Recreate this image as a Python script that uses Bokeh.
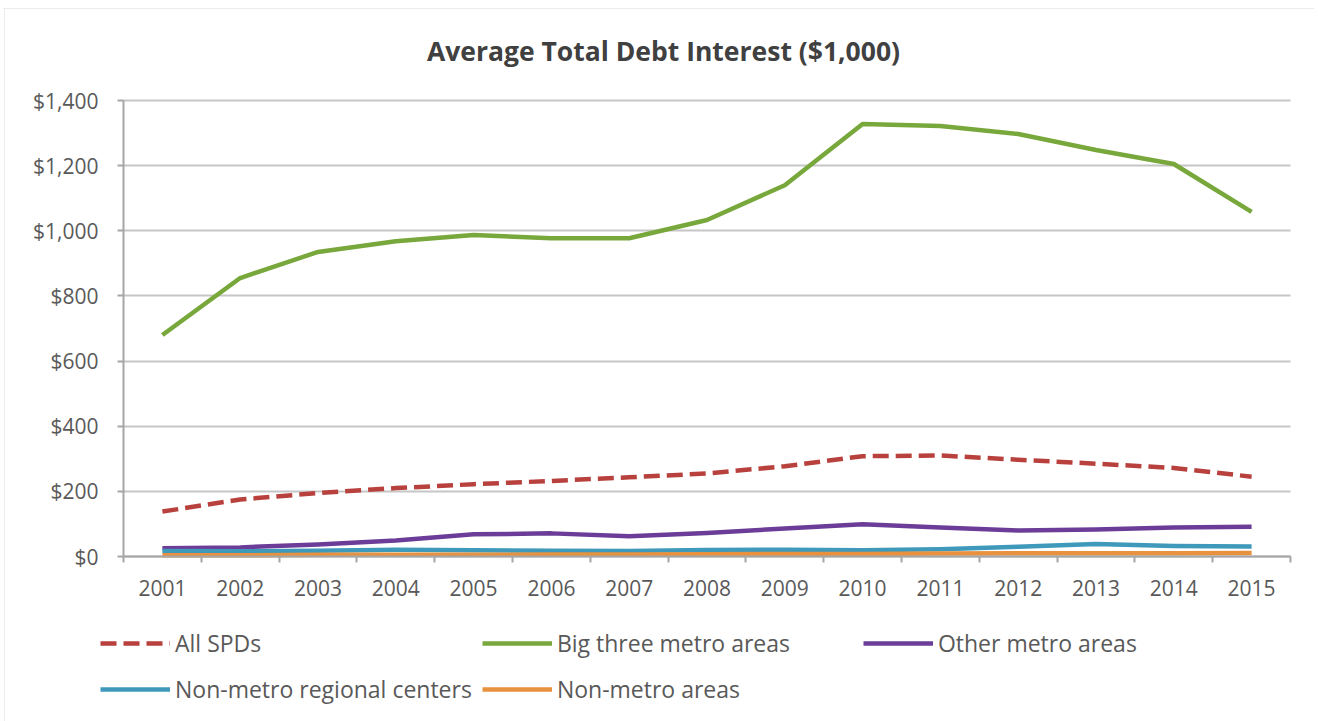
from bokeh.plotting import figure
from bokeh.models import (Range1d, FixedTicker, NumeralTickFormatter,
                          Legend, LegendItem, Label)
from bokeh.embed import file_html
from bokeh.resources import INLINE

years = ["2001", "2002", "2003", "2004", "2005", "2006", "2007", "2008",
         "2009", "2010", "2011", "2012", "2013", "2014", "2015"]
all_spds = [138, 175, 195, 210, 222, 232, 243, 255, 277, 308, 310, 297, 285, 272, 245]
big_three = [680, 855, 935, 968, 987, 977, 977, 1033, 1140, 1328, 1322, 1297, 1248, 1205, 1058]
other_metro = [25, 28, 37, 49, 68, 71, 62, 72, 86, 99, 89, 80, 83, 89, 91]
nonmetro_regional = [17, 16, 18, 21, 19, 18, 17, 20, 21, 19, 22, 30, 38, 32, 31]
nonmetro_areas = [4, 4, 5, 5, 5, 6, 6, 7, 8, 8, 9, 10, 10, 10, 11]
y_ticks = [0, 200, 400, 600, 800, 1000, 1200, 1400]
title_text = "Average Total Debt Interest ($1,000)"

series = [
    ("All SPDs", all_spds, "#B8413D", "16 7"),
    ("Big three metro areas", big_three, "#78A73C", "solid"),
    ("Other metro areas", other_metro, "#6C3D98", "solid"),
    ("Non-metro regional centers", nonmetro_regional, "#3E99BA", "solid"),
    ("Non-metro areas", nonmetro_areas, "#E8913E", "solid"),
]

xs = list(range(1, len(years) + 1))
Y_MAX = y_ticks[-1]

TEXT = "#595959"
FONT = "Open Sans"

# --- page geometry (pixels) ---
FIG_L, FIG_T, FIG_W, FIG_H = 4, 8, 1310, 713
PLOT_L, PLOT_R, PLOT_T, PLOT_B = 123, 1290, 100, 556
FIG_R, FIG_B = FIG_L + FIG_W, FIG_T + FIG_H
n = len(years)
px_x = (PLOT_R - PLOT_L) / n            # pixels per category
px_y = (PLOT_B - PLOT_T) / Y_MAX        # pixels per $1,000
x0 = 0.5 - (PLOT_L - FIG_L) / px_x
x1 = n + 0.5 + (FIG_R - PLOT_R) / px_x
y0 = -(FIG_B - PLOT_B) / px_y
y1 = Y_MAX + (PLOT_T - FIG_T) / px_y

p = figure(width=FIG_W, height=FIG_H, output_backend="svg", toolbar_location=None,
           x_range=Range1d(x0, x1), y_range=Range1d(y0, y1),
           min_border=0, min_border_left=0, min_border_right=0,
           min_border_top=0, min_border_bottom=0)
p.outline_line_color = None
p.background_fill_color = "white"
p.border_fill_color = "white"
p.styles = {"margin-left": "%dpx" % FIG_L, "margin-top": "%dpx" % FIG_T,
            "outline": "2px solid #d9d9d9", "outline-offset": "-2px"}

# x axis (at $0)
xa = p.xaxis[0]
xa.fixed_location = 0
xa.bounds = (0.5, n + 0.5)
xa.ticker = FixedTicker(ticks=xs, minor_ticks=[i + 0.5 for i in range(0, n + 1)])
xa.major_label_overrides = {i: y for i, y in zip(xs, years)}
xa.major_tick_out = 0
xa.major_tick_in = 0
xa.minor_tick_out = 6
xa.minor_tick_in = 0
xa.minor_tick_line_color = "#a6a6a6"
xa.minor_tick_line_width = 2
xa.axis_line_color = "#a6a6a6"
xa.axis_line_width = 2
xa.major_label_text_font = FONT
xa.major_label_text_font_size = "21px"
xa.major_label_text_color = TEXT
xa.major_label_standoff = 17

# y axis (at left edge of the categories)
ya = p.yaxis[0]
ya.fixed_location = 0.5
ya.bounds = (0, Y_MAX)
ya.ticker = FixedTicker(ticks=y_ticks, minor_ticks=[])
ya.formatter = NumeralTickFormatter(format="$0,0")
ya.major_tick_out = 6
ya.major_tick_in = 0
ya.major_tick_line_color = "#a6a6a6"
ya.major_tick_line_width = 2
ya.minor_tick_out = 0
ya.axis_line_color = "#a6a6a6"
ya.axis_line_width = 2
ya.major_label_text_font = FONT
ya.major_label_text_font_size = "21px"
ya.major_label_text_color = TEXT
ya.major_label_standoff = 19

p.xgrid.grid_line_color = None
p.ygrid.grid_line_color = "#c6c6c6"
p.ygrid.grid_line_width = 2
p.ygrid.ticker = FixedTicker(ticks=y_ticks)
p.ygrid.bounds = (0, Y_MAX)
try:
    p.ygrid.cross_bounds = (0.5, n + 0.5)
except Exception:
    pass

items = []
for name, vals, color, dash in series:
    r = p.line(xs, vals, line_color=color, line_width=4.5, line_dash=dash,
               line_join="round", line_cap="butt")
    items.append(LegendItem(label=name, renderers=[r]))

legend = Legend(items=items, ncols=3, orientation="horizontal",
                location=(100 - FIG_L, 14), glyph_width=70, glyph_height=36,
                label_height=36, label_width=296, label_standoff=5, spacing=10,
                padding=0, margin=0, border_line_alpha=0,
                background_fill_alpha=0, label_text_font=FONT,
                label_text_font_size="23px", label_text_color=TEXT)
p.add_layout(legend, "center")

title = Label(x=0.5 + (663 - PLOT_L) / px_x, y=Y_MAX + (PLOT_T - 50) / px_y,
              text=title_text, text_align="center", text_baseline="middle",
              text_font=FONT, text_font_style="bold", text_font_size="26.5px",
              text_color="#404040")
p.add_layout(title)

open("out.html", "w").write(file_html(p, INLINE))
